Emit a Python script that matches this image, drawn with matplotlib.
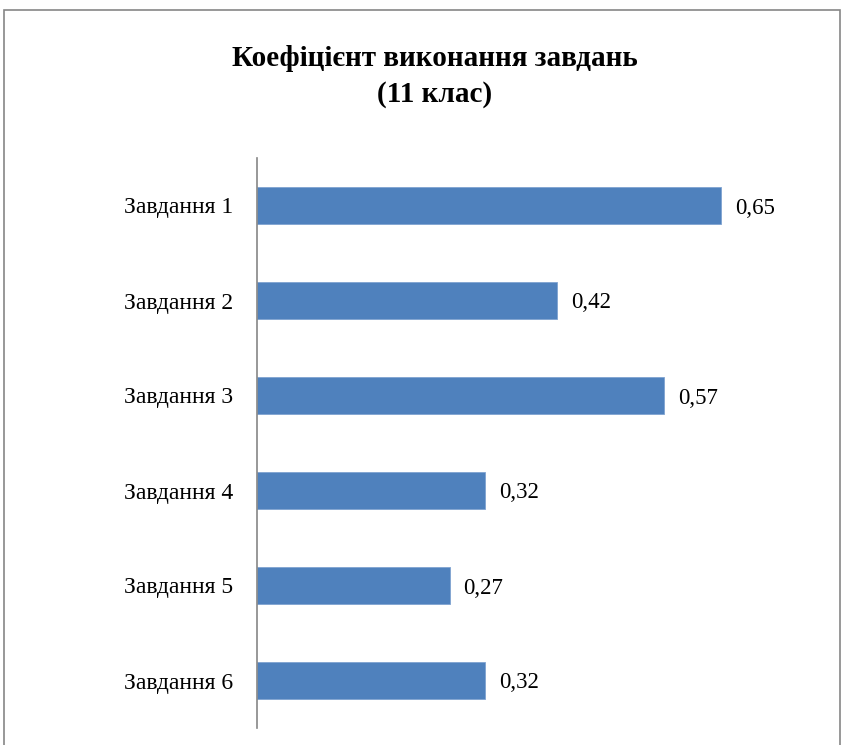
import matplotlib.pyplot as plt
from matplotlib.patches import Rectangle

tasks = ['Завдання 1', 'Завдання 2', 'Завдання 3', 'Завдання 4', 'Завдання 5', 'Завдання 6']
values = [0.65, 0.42, 0.57, 0.32, 0.27, 0.32]
value_labels = ['0,65', '0,42', '0,57', '0,32', '0,27', '0,32']

plt.rcParams['font.family'] = ['Liberation Serif', 'DejaVu Serif']

W, H = 843, 745
fig = plt.figure(figsize=(W / 100, H / 100), dpi=100)
ax = fig.add_axes([257 / W, 1 - 728 / H, (828 - 257) / W, (728 - 158) / H])

ax.barh(range(len(tasks)), values, height=0.39, color='#4F81BD',
        edgecolor='#7FA3D1', linewidth=0.6)
ax.set_ylim(5.5, -0.5)
ax.set_xlim(0, 0.8)
ax.set_yticks(range(len(tasks)))
ax.set_yticklabels(tasks, fontsize=17)
ax.tick_params(axis='y', length=0, pad=17)
ax.set_xticks([])
for s in ['top', 'right', 'bottom']:
    ax.spines[s].set_visible(False)
ax.spines['left'].set_color('#868686')
ax.spines['left'].set_linewidth(1.2)

for i, (v, lab) in enumerate(zip(values, value_labels)):
    ax.annotate(lab, (v, i), xytext=(10, 0), textcoords='offset points',
                va='center_baseline', ha='left', fontsize=16.5)

fig.text(435 / W, 1 - 59 / H, 'Коефіцієнт виконання завдань', ha='center', va='center',
         fontsize=21, fontweight='bold')
fig.text(435 / W, 1 - 94 / H, '(11 клас)', ha='center', va='center',
         fontsize=21, fontweight='bold')

fig.patches.append(Rectangle((4 / W, -0.1), (840 - 4) / W, 1.1 - 10 / H,
                             transform=fig.transFigure, fill=False,
                             edgecolor='#868686', linewidth=1.2))

fig.savefig('out.png', dpi=100)
